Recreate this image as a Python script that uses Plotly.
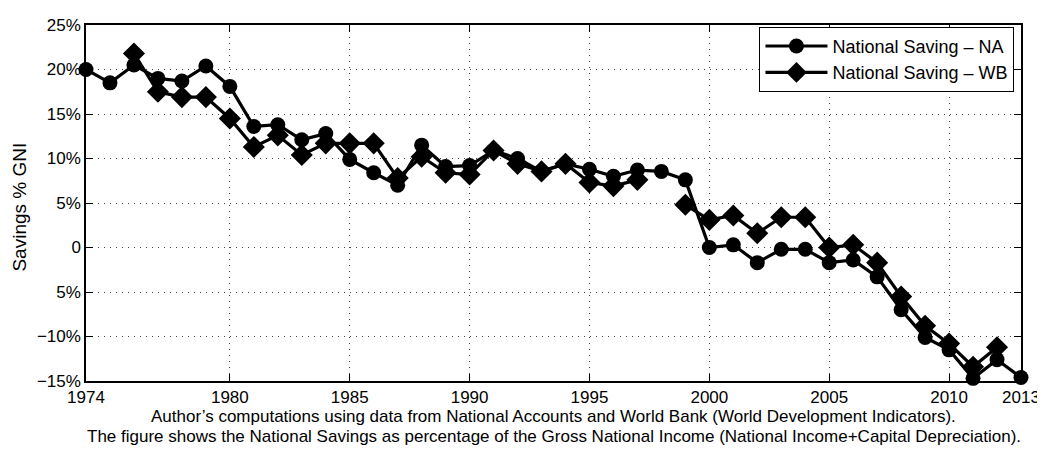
import plotly.graph_objects as go

years = list(range(1974, 2014))

# National Saving - NA (% GNI)
na_values = [20.0, 18.5, 20.5, 19.0, 18.7, 20.4, 18.1, 13.6, 13.8, 12.1,
             12.8, 9.9, 8.4, 7.0, 11.5, 9.1, 9.2, 10.9, 10.0, 8.55,
             9.4, 8.8, 8.0, 8.7, 8.55, 7.6, 0.0, 0.3, -1.7, -0.2,
             -0.2, -1.7, -1.4, -3.3, -7.0, -10.1, -11.5, -14.7, -12.6, -14.6]

# National Saving - WB (% GNI); None = missing
wb_values = [None, None, 21.8, 17.5, 16.9, 16.9, 14.5, 11.3, 12.6, 10.4,
             11.7, 11.7, 11.7, 7.8, 10.2, 8.4, 8.2, 10.9, 9.4, 8.55,
             9.4, 7.3, 6.9, 7.6, None, 4.8, 3.1, 3.6, 1.6, 3.4,
             3.4, 0.0, 0.3, -1.7, -5.5, -8.8, -10.8, -13.4, -11.2, None]

x_tickvals = [1974, 1980, 1985, 1990, 1995, 2000, 2005, 2010, 2013]
x_ticktext = ["1974", "1980", "1985", "1990", "1995", "2000", "2005", "2010", "2013"]
y_tickvals = [25, 20, 15, 10, 5, 0, -5, -10, -15]
y_ticktext = ["25%", "20%", "15%", "10%", "5%", "0", "5%", "\u221210%", "\u221215%"]

y_title = "Savings % GNI"
note1 = "Author\u2019s computations using data from National Accounts and World Bank (World Development Indicators)."
note2 = "The figure shows the National Savings as percentage of the Gross National Income (National Income+Capital Depreciation)."

FONT = "Liberation Sans, Arial, sans-serif"
FS = 18

fig = go.Figure()
fig.add_trace(go.Scatter(
    x=years, y=na_values, mode="lines+markers", name="National Saving \u2013 NA",
    line=dict(color="black", width=3.2),
    marker=dict(symbol="circle", size=15, color="black"),
    cliponaxis=False,
))
fig.add_trace(go.Scatter(
    x=years, y=wb_values, mode="lines+markers", name="National Saving \u2013 WB",
    line=dict(color="black", width=3.2),
    marker=dict(symbol="diamond", size=17, color="black"),
    connectgaps=False, cliponaxis=False,
))

axis_common = dict(
    showline=True, linecolor="black", linewidth=1.5, mirror="ticks",
    ticks="inside", ticklen=7, tickcolor="black", tickwidth=1,
    showgrid=True, gridcolor="#444444", griddash="1px,5px", gridwidth=1,
    zeroline=False, tickfont=dict(family=FONT, size=17, color="black"),
)

fig.update_xaxes(range=[1974, 2013], tickvals=x_tickvals, ticktext=x_ticktext, **axis_common)
fig.update_yaxes(range=[-15, 25], tickvals=y_tickvals, ticktext=y_ticktext, **axis_common)

fig.add_annotation(text=y_title, xref="paper", yref="paper", x=-0.0706, y=0.49,
                   xanchor="center", yanchor="middle", textangle=-90, showarrow=False,
                   font=dict(family=FONT, size=19, color="black"))
fig.add_annotation(text=note1, xref="paper", yref="paper", x=0.5, y=-0.101,
                   xanchor="center", yanchor="middle", showarrow=False,
                   font=dict(family=FONT, size=17, color="black"))
fig.add_annotation(text=note2, xref="paper", yref="paper", x=0.5, y=-0.155,
                   xanchor="center", yanchor="middle", showarrow=False,
                   font=dict(family=FONT, size=17, color="black"))

fig.update_layout(
    width=1045, height=451,
    margin=dict(l=78, r=32, t=8, b=78),
    paper_bgcolor="white", plot_bgcolor="white",
    font=dict(family=FONT, size=FS, color="black"),
    legend=dict(x=0.993, y=0.995, xanchor="right", yanchor="top",
                bgcolor="white", bordercolor="black", borderwidth=1,
                font=dict(family=FONT, size=FS, color="black"),
                itemwidth=62, tracegroupgap=0),
    showlegend=True,
)

fig.write_html("out.html")
